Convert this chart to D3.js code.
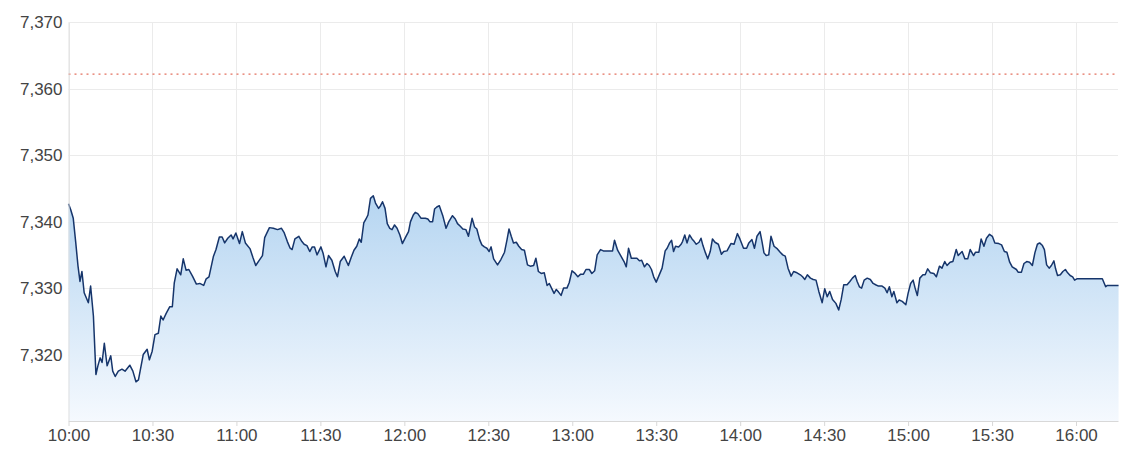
<!DOCTYPE html>
<html>
<head>
<meta charset="utf-8">
<script src="https://cdn.jsdelivr.net/npm/d3@7"></script>
<style>
  html, body { margin: 0; padding: 0; background: #fff; }
  svg { display: block; font-family: "Liberation Sans", Arial, sans-serif; }
</style>
</head>
<body>
<svg id="chart" width="1144" height="460"></svg>
<script>
// minutes after 10:00
const minutes = [
  0, 0.8, 1.7, 2.6, 3.4, 4.1, 4.8, 5.6, 7.1, 7.9, 8.9, 9.8, 10.5, 11.3, 12, 12.8, 13.8, 15.1, 15.8, 16.7,
  17.8, 19.1, 20.2, 21.9, 23, 24.1, 25, 26.7, 28.1, 28.9, 29.9, 30.9, 32.1, 33, 33.8, 34.9, 36.2, 37.1, 37.8, 38.8,
  40.1, 41, 42, 43, 44.3, 45.7, 46.9, 48.3, 49.2, 50.2, 51.8, 52.7, 53.9, 54.9, 55.8, 56.9, 58.1, 58.8, 59.8, 61.1,
  62.1, 63.2, 64.9, 65.9, 66.9, 68.2, 69.3, 70.1, 70.9, 71.8, 73.2, 74.7, 76.1, 77, 78.2, 79.2, 79.9, 80.9, 82.3, 83.4,
  84.2, 85.2, 86.2, 87.1, 87.9, 88.8, 90.2, 91, 92, 92.9, 94.1, 95.3, 96.1, 97.1, 98.5, 100, 101, 102, 103, 103.9,
  104.6, 105.5, 106.3, 107, 107.9, 108.9, 109.7, 110.8, 111.5, 112.2, 113.1, 113.9, 114.8, 115.6, 116.5, 117.4, 118.4, 119.3, 120.5, 121.5,
  122.2, 123.2, 123.9, 124.8, 126, 127.5, 128.4, 129.1, 130.1, 130.8, 131.6, 132.5, 133.8, 134.9, 135.9, 137.2, 138.2, 139, 140, 140.9,
  142, 142.9, 144.2, 145.1, 145.9, 146.9, 147.7, 148.6, 149.5, 150.3, 151, 151.9, 153.3, 154.5, 155.8, 156.7, 157.4, 158.2, 159, 160,
  160.9, 161.9, 162.9, 164, 165, 166.2, 167, 167.9, 168.9, 170, 171, 171.8, 172.8, 173.5, 174.3, 175.1, 176, 176.9, 178.1, 178.9,
  179.9, 180.8, 182, 183, 184, 184.9, 186.1, 187, 188, 188.9, 190.1, 191.1, 192.4, 194.4, 195.1, 196.2, 197.3, 198.5, 199.3, 200.1,
  201.1, 203.1, 204, 204.8, 205.8, 206.7, 207.5, 208.3, 209.1, 210, 210.9, 212.1, 213.2, 213.9, 214.8, 215.5, 216.2, 216.9, 218, 218.9,
  219.4, 220.2, 221, 221.9, 222.8, 223.6, 224.3, 225.3, 226, 226.7, 227.6, 228.4, 229.3, 230.1, 231, 232.2, 233.3, 234.1, 235.3, 236.7,
  237.8, 239, 239.9, 241.2, 242.3, 243.1, 244.2, 245.1, 246, 247.1, 247.8, 248.5, 249.3, 250.2, 251, 252.1, 253.3, 254.3, 255.2, 256.1,
  257.1, 258.2, 259.1, 260.3, 261.5, 262.3, 263.1, 264, 265.1, 266.1, 267.1, 268.1, 269.3, 270.2, 271.1, 272, 273, 274.2, 275.2, 276.1,
  277, 278.2, 279.2, 280.1, 281.1, 281.8, 282.6, 283.4, 284.3, 285.4, 286.5, 287.5, 288.4, 289.4, 290.7, 291.7, 292.5, 293.3, 294.2, 294.9,
  296, 296.8, 297.9, 299.2, 300, 300.9, 301.8, 302.5, 303.3, 304.2, 305.3, 306.1, 307, 308, 309.2, 310.1, 311.2, 312.1, 313.1, 313.9,
  315, 316, 317.2, 317.9, 319.3, 320.3, 321.3, 322.2, 323.4, 324.1, 325.3, 326.1, 327.1, 328, 329.1, 330.1, 331, 332.4, 333.4, 334.4,
  335.3, 336.3, 337.2, 338.7, 339.3, 340.5, 341.4, 342.4, 343.4, 344.4, 345.3, 346.2, 347, 348, 348.7, 349.5, 350.4, 351.2, 352.1, 352.7,
  353.4, 354.4, 355.3, 356.2, 357, 357.9, 358.8, 359.5, 360.3, 369.4, 370, 370.6, 371.2, 375.2
];
const values = [
  7342.7, 7341.8, 7340.5, 7336.8, 7333.3, 7331.0, 7332.5, 7329.3, 7327.8, 7330.3, 7325.8, 7317.0, 7318.3, 7319.5, 7318.8, 7321.7, 7318.3, 7319.8, 7317.5, 7316.7,
  7317.5, 7317.8, 7317.5, 7318.4, 7317.5, 7315.9, 7316.2, 7320.0, 7320.8, 7319.2, 7320.5, 7323.0, 7323.2, 7325.8, 7325.2, 7326.2, 7327.2, 7327.2, 7330.8, 7332.9,
  7332.0, 7334.4, 7332.7, 7332.8, 7331.8, 7330.6, 7330.7, 7330.4, 7331.4, 7331.7, 7334.8, 7335.8, 7337.7, 7337.7, 7336.8, 7337.5, 7338.0, 7337.4, 7338.3, 7336.7,
  7338.5, 7336.8, 7335.9, 7334.6, 7333.4, 7334.2, 7334.9, 7337.6, 7338.3, 7339.1, 7339.0, 7338.8, 7339.0, 7338.4, 7337.0, 7336.0, 7335.8, 7337.4, 7337.8, 7337.0,
  7336.6, 7336.4, 7335.5, 7336.2, 7336.2, 7335.0, 7336.2, 7335.2, 7333.2, 7334.9, 7334.2, 7332.5, 7331.7, 7334.0, 7334.8, 7333.4, 7334.6, 7335.7, 7336.3, 7337.4,
  7336.9, 7339.8, 7340.4, 7341.0, 7343.5, 7343.9, 7342.8, 7342.0, 7342.4, 7343.0, 7342.0, 7339.7, 7339.0, 7338.8, 7339.5, 7339.0, 7338.0, 7336.7, 7337.7, 7338.5,
  7340.0, 7341.0, 7341.4, 7341.2, 7340.5, 7340.5, 7340.4, 7340.0, 7340.0, 7341.9, 7342.2, 7342.4, 7340.8, 7339.0, 7340.0, 7340.9, 7340.4, 7339.7, 7339.3, 7338.9,
  7338.8, 7337.8, 7340.5, 7339.2, 7338.9, 7337.3, 7336.5, 7336.2, 7336.0, 7335.5, 7336.2, 7334.4, 7333.5, 7334.3, 7335.4, 7337.3, 7338.9, 7337.8, 7336.8, 7336.9,
  7336.3, 7335.8, 7335.7, 7333.5, 7333.3, 7333.4, 7334.5, 7332.5, 7332.2, 7332.3, 7330.4, 7330.7, 7329.8, 7329.2, 7329.8, 7329.4, 7328.9, 7330.0, 7330.0, 7330.8,
  7332.6, 7332.3, 7331.7, 7332.1, 7332.1, 7332.8, 7332.8, 7332.2, 7332.6, 7335.0, 7335.8, 7335.6, 7335.6, 7335.6, 7337.2, 7335.7, 7334.9, 7334.0, 7333.2, 7336.0,
  7334.5, 7334.5, 7334.1, 7334.2, 7333.2, 7333.7, 7333.4, 7332.8, 7331.7, 7330.9, 7331.8, 7333.0, 7335.6, 7336.0, 7336.8, 7337.2, 7335.5, 7336.3, 7336.2, 7336.6,
  7337.0, 7338.0, 7336.8, 7338.0, 7337.4, 7337.0, 7336.6, 7336.9, 7337.5, 7336.4, 7335.3, 7334.4, 7335.5, 7337.4, 7336.9, 7336.6, 7335.1, 7335.5, 7335.6, 7336.7,
  7336.6, 7338.2, 7337.4, 7336.0, 7336.0, 7336.8, 7337.3, 7336.0, 7337.8, 7338.5, 7337.0, 7335.3, 7334.9, 7335.0, 7337.8, 7336.3, 7335.9, 7335.4, 7335.0, 7334.8,
  7333.0, 7331.8, 7332.5, 7332.3, 7332.0, 7331.7, 7331.3, 7332.0, 7331.5, 7331.3, 7331.2, 7329.5, 7327.8, 7329.9, 7328.7, 7329.5, 7328.3, 7327.7, 7326.7, 7328.3,
  7330.5, 7330.5, 7331.0, 7331.5, 7331.9, 7331.0, 7330.2, 7330.0, 7331.2, 7331.5, 7331.3, 7330.7, 7330.5, 7330.3, 7330.3, 7330.0, 7329.3, 7330.2, 7328.7, 7329.5,
  7327.8, 7328.2, 7328.0, 7327.5, 7329.2, 7330.7, 7331.2, 7330.0, 7328.9, 7331.5, 7332.0, 7332.0, 7332.9, 7332.3, 7332.2, 7331.7, 7333.3, 7333.0, 7334.0, 7333.4,
  7333.9, 7334.0, 7335.8, 7334.9, 7335.5, 7334.4, 7334.4, 7335.8, 7334.9, 7335.4, 7335.4, 7337.4, 7336.3, 7337.5, 7338.1, 7337.8, 7336.8, 7336.7, 7336.5, 7335.5,
  7335.4, 7333.9, 7333.2, 7332.8, 7332.4, 7332.4, 7333.7, 7334.0, 7333.9, 7333.4, 7335.3, 7336.6, 7336.8, 7336.4, 7335.8, 7333.5, 7333.0, 7333.4, 7334.1, 7332.9,
  7331.9, 7332.0, 7332.5, 7332.8, 7332.3, 7331.9, 7331.7, 7331.2, 7331.4, 7331.4, 7330.8, 7330.2, 7330.4, 7330.4
];
const prevClose = 7362.2;
const yTicks = [7320, 7330, 7340, 7350, 7360, 7370];
const xTickMinutes = [0, 30, 60, 90, 120, 150, 180, 210, 240, 270, 300, 330, 360];
const xTickLabels = ["10:00", "10:30", "11:00", "11:30", "12:00", "12:30", "13:00", "13:30", "14:00", "14:30", "15:00", "15:30", "16:00"];

const n = Math.min(minutes.length, values.length);
const data = minutes.slice(0, n).map((m, i) => ({ m, v: values[i] }));

const svg = d3.select("#chart");
const plotLeft = 68.5, plotRight = 1118, plotTop = 22.3, plotBottom = 421;

const x = d3.scaleLinear().domain([0, 375]).range([plotLeft, plotRight]);
const y = d3.scaleLinear().domain([7310, 7370]).range([plotBottom, plotTop]);

const defs = svg.append("defs");
const grad = defs.append("linearGradient")
  .attr("id", "areaGrad").attr("gradientUnits", "userSpaceOnUse")
  .attr("x1", 0).attr("x2", 0).attr("y1", y(7344)).attr("y2", plotBottom);
grad.append("stop").attr("offset", "0%").attr("stop-color", "#b5d5f1");
grad.append("stop").attr("offset", "100%").attr("stop-color", "#f5f9fe");

// grid
const grid = svg.append("g");
grid.selectAll("line.h").data(yTicks).join("line")
  .attr("x1", plotLeft).attr("x2", plotRight)
  .attr("y1", d => Math.round(y(d)) + 0.5).attr("y2", d => Math.round(y(d)) + 0.5)
  .attr("stroke", "#ebebeb").attr("stroke-width", 1);
grid.selectAll("line.v").data(xTickMinutes).join("line")
  .attr("x1", d => Math.round(x(d)) + 0.5).attr("x2", d => Math.round(x(d)) + 0.5)
  .attr("y1", plotTop).attr("y2", plotBottom)
  .attr("stroke", "#ebebeb").attr("stroke-width", 1);

// area
const area = d3.area().x(d => x(d.m)).y0(plotBottom).y1(d => y(d.v));
svg.append("path").datum(data).attr("d", area).attr("fill", "url(#areaGrad)");

// prev close dotted line
svg.append("line")
  .attr("x1", plotLeft).attr("x2", plotRight)
  .attr("y1", y(prevClose)).attr("y2", y(prevClose))
  .attr("stroke", "#e4705f").attr("stroke-width", 1.3)
  .attr("stroke-dasharray", "2,4");

// line
const line = d3.line().x(d => x(d.m)).y(d => y(d.v));
svg.append("path").datum(data).attr("d", line)
  .attr("fill", "none").attr("stroke", "#16356b").attr("stroke-width", 1.5)
  .attr("stroke-linejoin", "round");

// axes
const yAxis = d3.axisLeft(y).tickValues(yTicks).tickFormat(d3.format(",")).tickSize(0).tickPadding(6);
const gy = svg.append("g").attr("transform", `translate(${plotLeft},0)`).call(yAxis);
gy.select(".domain").attr("stroke", "#e0e0e0");
gy.selectAll("text").attr("font-size", 17).attr("fill", "#444")
  .attr("font-family", "'Liberation Sans', Arial, sans-serif");

const xAxis = d3.axisBottom(x).tickValues(xTickMinutes).tickFormat((d, i) => xTickLabels[i])
  .tickSize(5).tickSizeOuter(0).tickPadding(3);
const gx = svg.append("g").attr("transform", `translate(0,${plotBottom})`).call(xAxis);
gx.select(".domain").attr("stroke", "#d8d8d8");
gx.selectAll(".tick line").attr("stroke", "#d8d8d8");
gx.selectAll("text").attr("font-size", 17).attr("fill", "#444")
  .attr("font-family", "'Liberation Sans', Arial, sans-serif");
</script>
</body>
</html>
